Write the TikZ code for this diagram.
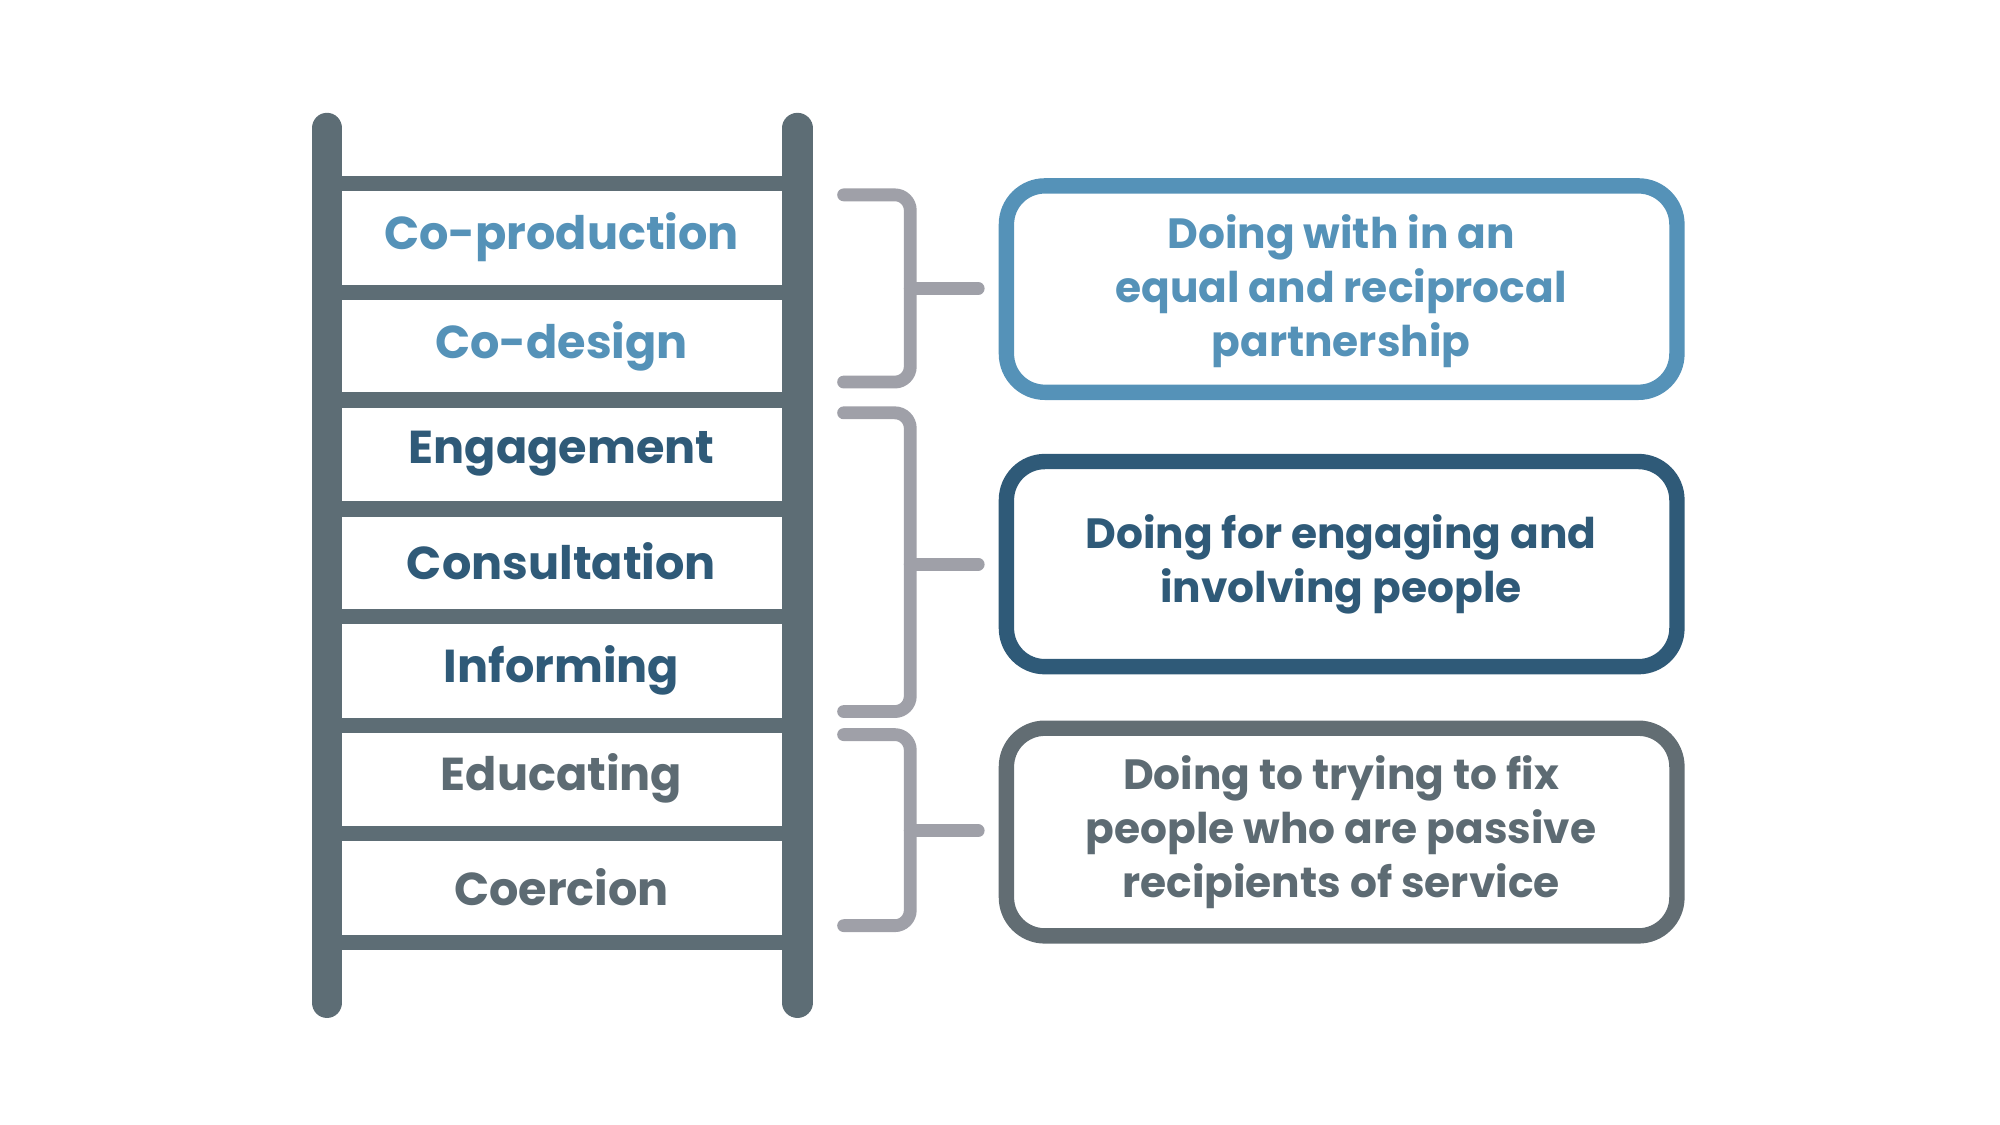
\documentclass[tikz,border=0pt]{standalone}
\usepackage{fontspec}
\setmainfont{Poppins}
\definecolor{rail}{HTML}{5D6D75}
\definecolor{lblue}{HTML}{5592B8}
\definecolor{dblue}{HTML}{2F5A78}
\definecolor{gtext}{HTML}{5D6B73}
\definecolor{brk}{HTML}{9FA0A8}
\definecolor{gbox}{HTML}{626D73}
\begin{document}
\begin{tikzpicture}[x=1pt,y=-1pt,
  rung/.style={rail,line width=12pt},
  lab/.style={font=\fontsize{36}{40}\selectfont\bfseries,anchor=center},
  brack/.style={brk,line width=10pt,rounded corners=12pt,line cap=round},
  btxt/.style={font=\fontsize{33}{42}\selectfont\bfseries,align=center}]
\useasboundingbox (0,0) rectangle (1560,877.5);
\foreach \y in {143,228,312,397,481,566,650,735} \draw[rung] (255,\y) -- (622,\y);
\draw[rail,line width=24pt,line cap=round] (255,100) -- (255,782);
\draw[rail,line width=24pt,line cap=round] (622,100) -- (622,782);
\node[lab,lblue] (l1) at (438,185) {Co-production};
\node[lab,lblue] (l2) at (438,270) {Co-design};
\node[lab,dblue] (l3) at (438,354) {Engagement};
\node[lab,dblue] (l4) at (438,438) {Consultation};
\node[lab,dblue] (l5) at (438,523) {Informing};
\node[lab,gtext] (l6) at (438,607) {Educating};
\node[lab,gtext] (l7) at (438,692) {Coercion};
\draw[brack] (658,152) -- (710,152) -- (710,298) -- (658,298);
\draw[brack] (710,225) -- (763,225);
\draw[brack] (658,322) -- (710,322) -- (710,555) -- (658,555);
\draw[brack] (710,440) -- (763,440);
\draw[brack] (658,573) -- (710,573) -- (710,722) -- (658,722);
\draw[brack] (710,648) -- (763,648);
\draw[lblue,line width=12pt,rounded corners=30pt] (785,145) rectangle (1308,306);
\draw[dblue,line width=12pt,rounded corners=30pt] (785,360) rectangle (1308,520);
\draw[gbox,line width=12pt,rounded corners=30pt] (785,568) rectangle (1308,730);
\node[btxt,lblue] (t1) at (1046,227) {Doing with in an\\equal and reciprocal\\partnership};
\node[btxt,dblue] (t2) at (1046,440) {Doing for engaging and\\involving people};
\node[btxt,gtext] (t3) at (1046,649) {Doing to trying to fix\\people who are passive\\recipients of service};
\end{tikzpicture}
\end{document}
